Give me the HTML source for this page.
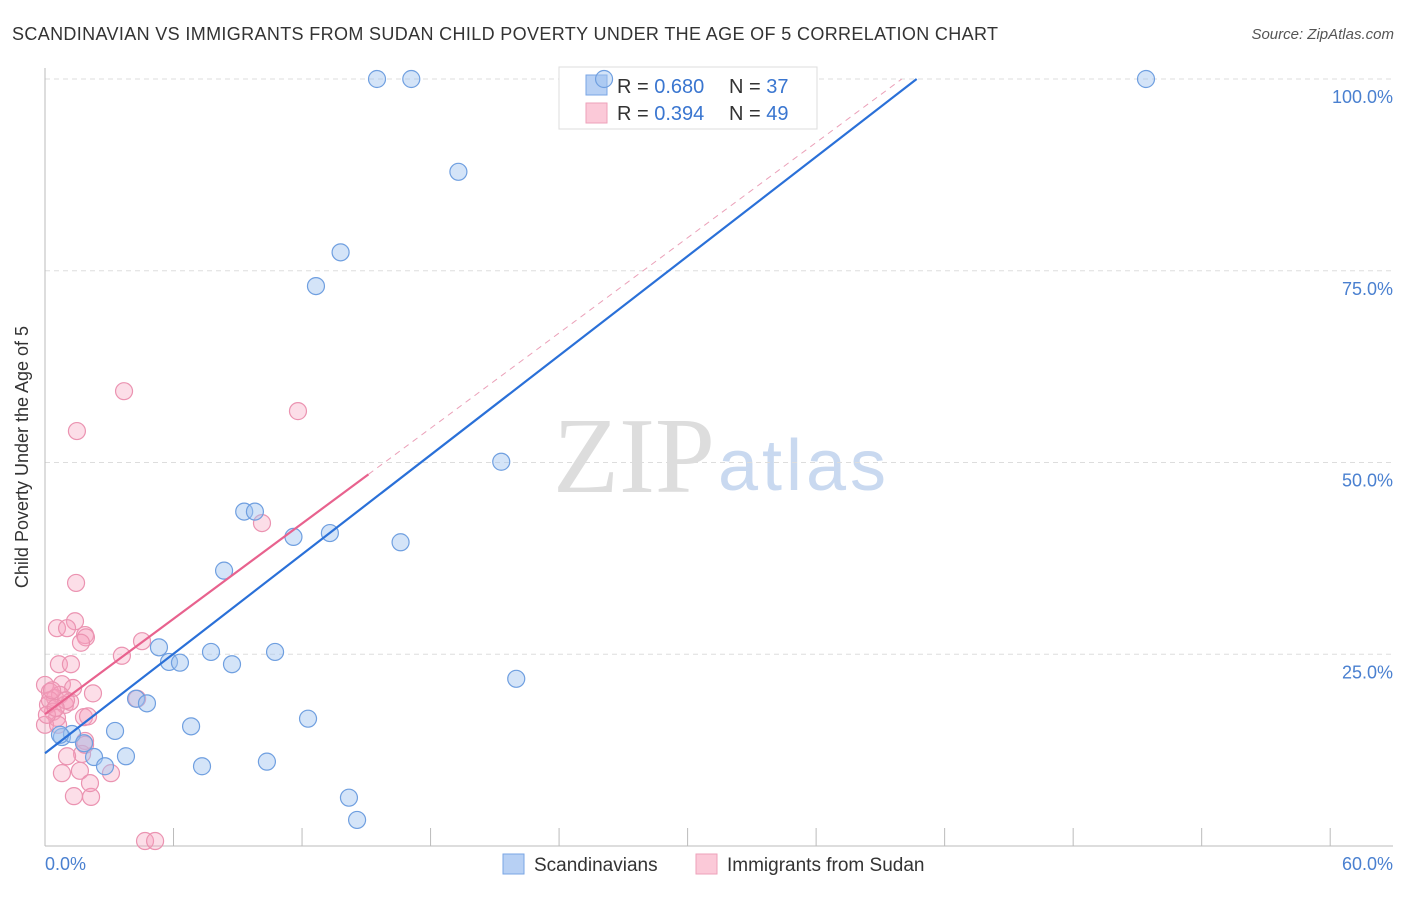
<!DOCTYPE html>
<html><head><meta charset="utf-8"><style>
body{margin:0;background:#fff;font-family:"Liberation Sans",sans-serif}
</style></head><body>
<svg width="1406" height="892" xmlns="http://www.w3.org/2000/svg">
<text x="12" y="40" font-size="18" fill="#333" textLength="986">SCANDINAVIAN VS IMMIGRANTS FROM SUDAN CHILD POVERTY UNDER THE AGE OF 5 CORRELATION CHART</text>
<text x="1394" y="39" font-size="15" fill="#555" font-style="italic" text-anchor="end">Source: ZipAtlas.com</text>
<text x="553" y="492" font-size="108" fill="#ddd" font-family="Liberation Serif,serif" textLength="162">ZIP</text>
<text x="718" y="490" font-size="72" fill="#c9d9f0" textLength="168">atlas</text>
<g id="grid"></g>
<line x1="45" y1="68" x2="45" y2="846" stroke="#bbb"/>
<line x1="45" y1="846" x2="1393" y2="846" stroke="#bbb"/>
<g id="xt"></g>
<text x="28" y="457" font-size="18" fill="#333" text-anchor="middle" transform="rotate(-90 28 457)">Child Poverty Under the Age of 5</text>
<text x="45" y="870" font-size="18" fill="#4a80d0">0.0%</text>
<text x="1393" y="870" font-size="18" fill="#4a80d0" text-anchor="end">60.0%</text>
<g>
<rect x="559" y="67" width="258" height="62" fill="#fff" stroke="#ddd"/>
<rect x="586" y="75" width="21" height="20" fill="#b7d0f4" stroke="#7aa6e4"/>
<rect x="586" y="103" width="21" height="20" fill="#fbc9d8" stroke="#eea1ba"/>
<text x="617" y="93" font-size="20" fill="#333">R = <tspan fill="#3a76d0">0.680</tspan><tspan x="729">N = </tspan><tspan fill="#3a76d0">37</tspan></text>
<text x="617" y="120" font-size="20" fill="#333">R = <tspan fill="#3a76d0"> 0.394</tspan><tspan x="729">N = </tspan><tspan fill="#3a76d0">49</tspan></text>
</g>
<g id="pts"></g>
<g id="lines"></g>
<g>
<rect x="503" y="854" width="21" height="20" fill="#b7d0f4" stroke="#7aa6e4"/>
<text x="534" y="871" font-size="19" fill="#333">Scandinavians</text>
<rect x="696" y="854" width="21" height="20" fill="#fbc9d8" stroke="#eea1ba"/>
<text x="727" y="871" font-size="19" fill="#333">Immigrants from Sudan</text>
</g>
</svg>
<script>
const yTicks=[25,50,75,100];
const xTickVals=[0,6,12,18,24,30,36,42,48,54,60];
const blueX=[15.5,17.1,26.1,51.4,19.3,13.8,12.65,21.3,9.3,9.8,11.6,13.3,16.6,8.36,5.32,5.79,6.3,7.75,8.73,10.74,4.25,4.76,22.0,6.82,12.28,3.27,0.79,1.26,1.82,2.29,2.8,3.78,7.33,10.36,14.19,14.57,0.7];
const blueY=[100,100,100,100,87.9,77.4,73.0,50.1,43.6,43.6,40.3,40.8,39.6,35.9,25.9,24.0,23.9,25.3,23.7,25.3,19.2,18.6,21.8,15.6,16.6,15.0,14.2,14.6,13.4,11.6,10.4,11.7,10.4,11.0,6.3,3.4,14.5];
const pinkX=[3.69,1.49,11.81,10.13,1.45,1.4,0.56,1.03,1.87,1.91,1.68,4.53,3.59,0.65,1.21,0,0.79,1.31,2.24,0.23,0.47,0.7,0.14,0.93,1.17,0.37,0.56,1.82,2.01,4.3,0,0.61,1.87,1.73,1.03,0.79,3.08,1.63,1.35,2.15,2.1,4.67,5.14,0.23,0.33,0.98,0.09,1.87,0.5];
const pinkY=[59.3,54.1,56.7,42.1,34.3,29.3,28.4,28.4,27.5,27.2,26.5,26.7,24.8,23.7,23.7,21.0,21.1,20.6,19.9,20.1,19.3,19.7,18.4,18.4,18.8,17.5,16.7,16.8,16.9,19.2,15.8,15.8,13.7,12.0,11.7,9.5,9.5,9.8,6.5,6.4,8.2,0.65,0.65,19.0,20.3,19.0,17.1,13.2,18.0];
const blueFit=[12.1,2.16];
const pinkFit=[17.2,2.07];
const pinkSolidMaxX=15.1;
const NS="http://www.w3.org/2000/svg";
const sx=v=>45+v*21.42, sy=v=>846-v*7.67;
function mk(t,a,p){const e=document.createElementNS(NS,t);for(const k in a)e.setAttribute(k,a[k]);document.getElementById(p).appendChild(e);return e;}
yTicks.forEach(v=>{
 const l=mk('line',{x1:45,x2:1393,y1:sy(v),y2:sy(v),stroke:'#ddd','stroke-dasharray':'5,4'},'grid');
 
 
 const t=mk('text',{x:1393,y:sy(v)+24,'font-size':18,fill:'#4a80d0','text-anchor':'end'},'grid');
 t.textContent=v.toFixed(1)+'%';
 
 
});
xTickVals.forEach(v=>{
 const l=mk('line',{x1:sx(v),x2:sx(v),y1:846,y2:828,stroke:'#bbb'},'xt');
 
 
});
pinkX.forEach((x,i)=>{
 const c=mk('circle',{cx:sx(x),cy:sy(pinkY[i]),r:8.5,fill:'rgba(245,160,190,0.35)',stroke:'#eb93b1','stroke-width':1.2},'pts');
 
 
});
blueX.forEach((x,i)=>{
 const c=mk('circle',{cx:sx(x),cy:sy(blueY[i]),r:8.5,fill:'rgba(160,195,240,0.45)',stroke:'#6f9fe0','stroke-width':1.2},'pts');
 
 
});
const bx2=(100-blueFit[0])/blueFit[1];
const bl=mk('line',{x1:sx(0),y1:sy(blueFit[0]),x2:sx(bx2),y2:sy(100),stroke:'#2a70d8','stroke-width':2.2},'lines');


const px2=(100-pinkFit[0])/pinkFit[1];
const pd=mk('line',{x1:sx(pinkSolidMaxX),y1:sy(pinkFit[0]+pinkFit[1]*pinkSolidMaxX),x2:sx(px2),y2:sy(100),stroke:'#eba0b8','stroke-width':1,'stroke-dasharray':'6,5'},'lines');


const pl=mk('line',{x1:sx(0),y1:sy(pinkFit[0]),x2:sx(pinkSolidMaxX),y2:sy(pinkFit[0]+pinkFit[1]*pinkSolidMaxX),stroke:'#e8628e','stroke-width':2.2},'lines');


</script>
</body></html>
